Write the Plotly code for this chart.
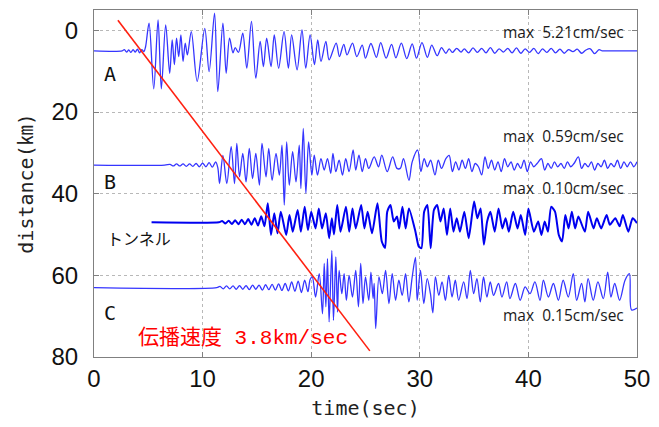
import plotly.graph_objects as go

# Station offsets on the distance axis (km) for each record
station_names = ["A", "B", "トンネル", "C"]
station_offsets = [5, 33, 47, 63]
max_labels = ["max\u00a0\u00a05.21cm/sec", "max\u00a0\u00a00.59cm/sec",
              "max\u00a0\u00a00.10cm/sec", "max\u00a0\u00a00.15cm/sec"]
max_label_y = [0.5, 25.8, 38.6, 69.6]

# Record A: time (s) and trace deflection (km on the distance axis, up = positive)
a_t = [0, 2.6, 2.8, 3.0, 3.2, 3.4, 3.6, 3.8, 4.0, 4.2, 4.4, 4.6, 4.75, 5.07, 5.5, 5.9,
       6.2, 6.6, 6.97, 7.2, 7.4, 7.6, 7.8, 8.0, 8.2, 8.4, 8.6, 8.96, 9.5, 10.2, 10.6,
       11.1, 11.4, 11.87, 12.17, 12.48, 12.8, 13.0, 13.3, 13.7, 14.07, 14.5, 14.9,
       15.3, 15.6, 15.9, 16.3, 16.6, 17.0, 17.5, 17.9, 18.2, 18.7, 19.15, 19.5, 19.9,
       20.3, 20.6, 20.9, 21.35, 21.65, 22.3, 22.6, 23.0, 23.3, 23.8, 24.2, 24.7, 25.0,
       25.5, 26.0, 26.4, 26.9, 27.4, 27.8, 28.3, 28.8, 29.3, 29.7, 30.2, 30.7, 31.1,
       31.6, 32.0, 32.4, 32.7, 33.0, 33.4, 33.8, 34.1, 34.5, 34.9, 35.3, 35.7, 36.1,
       36.5, 36.9, 37.3, 37.7, 38.1, 38.5, 38.9, 39.3, 39.7, 40.1, 40.5, 40.9, 41.3,
       41.7, 42.1, 42.5, 42.9, 43.3, 43.7, 44.1, 44.5, 44.9, 45.3, 45.7, 46.1, 46.5,
       46.8, 47.2, 50]
a_v = [0, 0, 0.3, -0.3, 0.2, -0.4, 0.3, -0.3, 0.4, -0.5, 0.3, -0.2, 1.0, 6.75, -9.3, 7.6,
       -9.3, 6.35, -5.5, 2.7, -3.4, 3.1, -1.4, 3.9, -2.6, 1.9, -1.0, 4.7, -7.5, 5.5, -5.1,
       9.2, -10.0, 6.75, -5.5, 3.1, -0.5, 0.8, -0.4, 4.3, -4.25, 7.2, -6.7,
       2.3, -3.85, 3.1, -3.85, 3.9, -4.25, 4.7, -4.25, 3.9, -4.65, 5.1, -4.25, 3.9,
       -3.4, 2.7, -2.6, 2.3, -2.2, 1.9, -1.4, 1.6, -1.0, 1.9, -1.4, 1.4, -1.8,
       1.8, -1.6, 2.0, -1.8, 1.6, -1.7, 1.9, -1.9, 1.7, -1.8, 2.0, -1.6, 1.4,
       -1.2, 0.8, -0.6, 0.5, -0.4, 0.6, -0.3, 0.5, -0.5, 0.7, -0.4, 0.6, -0.5,
       0.8, -0.6, 0.5, -0.3, 0.6, -0.5, 0.7, -0.6, 0.5, -0.4, 0.6, -0.7, 0.5,
       -0.4, 0.6, -0.5, 0.4, -0.6, 0.3, -0.2, 0.4, -0.6, 0.2, 0.5, -0.7, 0.3,
       0, 0, 0]

# Record B
b_t = [0, 6.5, 7.0, 7.3, 7.6, 7.9, 8.2, 8.5, 8.8, 9.1, 9.4, 9.7, 10.0, 10.3, 10.6, 10.9,
       11.2, 11.4, 11.56, 11.87, 12.23, 12.63, 12.94, 13.15, 13.4, 13.7, 14.0, 14.3,
       14.6, 14.9, 15.23, 15.47, 15.84, 16.09, 16.4, 16.76, 17.07, 17.31, 17.52, 17.74,
       17.98, 18.29, 18.6, 18.9, 19.05, 19.27, 19.51, 19.76, 20.06, 20.28, 20.58, 20.9,
       21.2, 21.5, 21.8, 22.0, 22.27, 22.57, 22.88, 23.18, 23.49, 23.86, 24.1, 24.4,
       24.7, 25.0, 25.3, 25.8, 26.2, 26.5, 27.0, 27.5, 27.9, 28.2, 28.5, 29.0, 29.3,
       29.8, 30.1, 30.4, 30.7, 31.0, 31.4, 31.7, 32.0, 32.4, 32.7, 33.0, 33.3, 33.6,
       33.9, 34.2, 34.5, 34.8, 35.1, 35.4, 35.7, 36.0, 36.3, 36.6, 36.9, 37.2, 37.5,
       37.8, 38.1, 38.4, 38.7, 39.0, 39.3, 39.6, 39.9, 40.2, 40.5, 40.8, 41.2, 41.5,
       41.8, 42.1, 42.4, 42.7, 43.0, 43.3, 43.6, 43.9, 44.2, 44.6, 44.9, 45.2, 45.5,
       45.8, 46.1, 46.4, 46.7, 47.0, 47.3, 47.6, 47.9, 48.2, 48.5, 48.8, 49.1, 49.4,
       49.7, 50.0]
b_v = [0, 0, 0.2, -0.2, 0.3, -0.2, 0.3, -0.3, 0.3, -0.3, 0.4, -0.4, 0.5, -0.4, 0.6, -0.5,
       0.8, -0.6, -4.5, 2.4, -4.5, 4.5, -4.5, 5.3, -2.85, 2.85, -4.1, 4.1,
       -3.3, 2.85, -4.9, 5.3, -2.85, 4.1, -3.7, 2.85, -2.45, 4.9, -9.8, 5.7,
       -4.9, 3.3, -4.1, 4.9, -5.7, 9.0, -6.9, 5.7, -2.45, 2.45, -2.45, 1.6,
       -1.2, 1.6, -2.0, 2.85, -1.6, 1.2, -2.45, 1.6, -1.6, 3.7, -1.2, 2.45,
       -1.6, 1.6, -0.8, 2.0, -0.4, 2.45, -1.6, 2.0, -0.8, -0.8, 1.6, -3.7, 0.8,
       3.7, -1.6, 1.6, -0.4, 1.2, -2.4, 1.2, -0.8, 1.6, 2.4, -1.6, 0.8, -1.2,
       1.2, -0.8, 1.6, -1.6, 0.4, -0.4, -2.4, 2.0, -0.8, 1.2, -1.2, 0.8, -1.6,
       1.6, -0.4, 0.8, -1.2, 0.4, -0.8, 1.2, -1.6, 0.8, -0.4, 0.4, 1.6, -1.2,
       0.4, -0.8, 0.8, -0.4, 0.4, -0.8, 0.8, -0.4, 0.4, 2.0, -0.8, 0.4, -0.4,
       0.8, -1.2, 0.4, -0.4, 1.2, -0.8, 0.4, -0.4, 1.2, -0.8, 0.8, -0.4, 0.8,
       -0.4, 0.8]

# Tunnel record
n_t = [5.3, 11.5, 11.8, 12.1, 12.4, 12.7, 13.0, 13.3, 13.6, 13.9, 14.2, 14.5, 14.8, 15.1,
       15.4, 15.7, 16.0, 16.3, 16.6, 16.9, 17.2, 17.7, 18.0, 18.3, 18.75, 19.05, 19.4,
       19.7, 20.0, 20.4, 20.7, 21.0, 21.35, 21.65, 21.9, 22.1, 22.4, 22.7, 23.2, 23.5,
       23.8, 24.1, 24.6, 24.9, 25.2, 25.6, 26.1, 26.5, 26.8, 27.0, 27.3, 27.6, 27.9,
       28.1, 28.4, 28.7, 29.0, 29.6, 29.9, 30.15, 30.4, 30.7, 31.0, 31.3, 31.6, 31.9,
       32.2, 32.5, 32.8, 33.1, 33.4, 33.7, 34.1, 34.5, 35.0, 35.3, 35.6, 35.9, 36.2,
       36.5, 36.9, 37.25, 37.6, 37.9, 38.2, 38.6, 39.0, 39.3, 39.7, 40.0, 40.5, 40.9,
       41.2, 41.5, 41.8, 42.1, 42.45, 42.8, 43.1, 43.4, 43.7, 44.0, 44.3, 44.6, 45.2,
       45.5, 46.0, 46.3, 46.7, 47.2, 47.5, 48.0, 48.4, 48.7, 49.2, 49.6, 50.0]
n_v = [0, 0, 0.3, -0.3, 0.4, -0.4, 0.5, -0.5, 0.6, -0.5, 0.8, -0.6, 1.0, -0.8,
       1.5, -1.0, 4.65, -3.1, 2.2, -2.7, 2.6, -3.1, 1.8, -2.3, 3.0, -2.3, 3.8,
       -1.9, 2.6, -1.5, 3.4, -1.5, 2.2, -3.9, 1.0, -3.0, 4.25, -2.3, 3.8, -2.3,
       3.4, -1.5, 4.25, -1.5, 2.6, -2.7, 4.65, -4.7, -6.3, 2.6, 4.25, 0.2, 1.4,
       -1.5, 3.8, -1.5, 3.4, -2.3, -5.9, -6.35, 2.6, 4.25, -6.35, 3.0, 4.25, 0.2,
       3.4, -3.1, 3.4, -2.3, 1.0, -2.3, 2.6, -3.9, 5.1, 1.0, 3.4, -5.5, 0.2,
       2.6, -2.3, 3.4, -1.5, 1.0, -2.3, 2.6, -1.5, 1.8, -3.1, 3.4, -2.3, 0.2,
       -3.1, 0.2, -2.3, 3.8, 2.6, -3.1, -4.7, 1.8, -1.5, 2.6, -1.5, 1.4, -2.3,
       2.6, -1.5, 1.0, -1.5, 1.8, -0.6, 1.0, -1.0, 1.8, -2.3, 1.0, -0.2]

# Record C
c_t = [0, 11.3, 11.6, 11.9, 12.2, 12.5, 12.8, 13.1, 13.4, 13.7, 14.0, 14.3, 14.6, 14.9,
       15.2, 15.5, 15.8, 16.1, 16.4, 16.7, 17.0, 17.3, 17.6, 17.9, 18.2, 18.5, 18.8,
       19.1, 19.4, 19.7, 19.9, 20.1, 20.4, 20.74, 21.04, 21.2, 21.35, 21.5, 21.65,
       21.9, 22.05, 22.27, 22.42, 22.57, 22.82, 23.03, 23.24, 23.49, 23.8, 24.1, 24.35,
       24.56, 24.77, 25.0, 25.3, 25.5, 25.7, 25.8, 25.94, 26.24, 26.55, 26.85, 27.16,
       27.46, 27.77, 28.07, 28.38, 28.69, 28.99, 29.3, 29.6, 29.76, 30.06, 30.37, 30.68,
       30.98, 31.2, 31.44, 31.75, 32.05, 32.36, 32.66, 32.97, 33.27, 33.58, 34.04, 34.35,
       34.65, 34.96, 35.26, 35.57, 35.87, 36.18, 36.49, 36.79, 37.25, 37.56, 38.0, 38.3,
       38.8, 39.24, 39.7, 40.15, 40.6, 41.07, 41.38, 41.84, 42.3, 42.76, 43.2, 43.67,
       44.13, 44.44, 44.9, 45.2, 45.5, 45.97, 46.4, 46.9, 47.3, 47.6, 47.95, 48.4,
       48.9, 49.3, 49.5, 50.0]
c_v = [0, 0, 0.3, -0.3, 0.4, -0.3, 0.4, -0.4, 0.5, -0.4, 0.5, -0.5, 0.6, -0.4,
       0.6, -0.6, 0.7, -0.5, 0.8, -0.6, 0.9, -0.7, 1.0, -0.8, 1.4, -0.9, 1.6,
       -1.2, 1.8, -1.0, 2.0, 2.6, -2.3, 3.4, -6.4, 5.9, -4.7, 7.1, -8.4,
       9.1, -8.0, 7.5, -6.0, 4.2, -1.5, 3.4, -3.1, 3.0, -2.3, 4.2, -4.7,
       5.9, -3.9, 2.6, -3.1, 3.8, -2.7, 1.0, -10.0, 2.6, -1.5, 4.2, -3.9,
       3.4, -3.1, 1.8, -1.9, 3.4, -3.5, 2.6, 7.4, -3.1, 4.2, -3.9, 2.2,
       -1.5, -6.2, 2.6, -1.9, 1.4, -3.1, 3.0, -2.3, 1.8, -3.1, 1.4, -2.7,
       4.2, -1.5, 2.2, -3.5, 2.6, -2.3, 1.4, -1.9, 1.0, -2.3, 1.4, -2.7,
       1.0, -3.1, 0.2, -1.5, 1.4, -3.1, 1.8, -2.3, 1.0, -3.1, 1.8, -2.3,
       3.4, -3.1, 1.0, -3.5, 2.2, -3.1, 1.4, -2.7, 3.8, -2.3, 1.0, -3.1,
       1.8, 3.4, -5.5, -5.0]

# Propagation line (3.8 km/s), end points in (s, km)
wave_t = [2.2, 25.4]
wave_d = [-2.5, 78.5]

x_ticks = [0, 10, 20, 30, 40, 50]
y_ticks = [0, 20, 40, 60, 80]

records = [(a_t, a_v), (b_t, b_v), (n_t, n_v), (c_t, c_v)]
line_styles = [dict(color="#3535ff", width=1.3, shape="spline", smoothing=0.9),
               dict(color="#3535ff", width=1.3, shape="spline", smoothing=0.9),
               dict(color="#0000f0", width=2.0, shape="spline", smoothing=0.6),
               dict(color="#3535ff", width=1.3, shape="spline", smoothing=0.9)]

fig = go.Figure()
for (tt, vv), base, style, name in zip(records, station_offsets, line_styles, station_names):
    fig.add_trace(go.Scatter(x=tt, y=[base - v for v in vv], mode="lines",
                             line=style, name=name, showlegend=False, hoverinfo="skip"))

fig.add_trace(go.Scatter(x=wave_t, y=wave_d, mode="lines",
                         line=dict(color="#ff2010", width=1.6), showlegend=False))

gothic = "DejaVu Sans Mono, Noto Sans CJK JP"
# Station labels
label_pos = [(0.75, 10.7), (0.75, 37.1), (1.0, 50.8), (0.75, 69.3)]
for name, (lx, ly) in zip(station_names, label_pos):
    fig.add_annotation(x=lx, y=ly, text=name, showarrow=False, xanchor="left",
                       font=dict(family=gothic if name != "トンネル" else "Noto Sans CJK JP",
                                 size=20 if name != "トンネル" else 16, color="#111"))

# Peak-amplitude labels
for txt, ly in zip(max_labels, max_label_y):
    fig.add_annotation(x=49.0, y=ly, text=txt, showarrow=False, xanchor="right",
                       font=dict(family="Open Sans, Noto Sans", size=15.5, color="#1a1a1a"))

fig.add_annotation(x=3.9, y=75.3, text="伝播速度 3.8km/sec", showarrow=False,
                   xanchor="left",
                   font=dict(family="Liberation Mono, Noto Sans CJK JP", size=21, color="#ff0000"))

axis_common = dict(showline=True, linecolor="#808080", linewidth=1, mirror="ticks",
                   ticks="inside", ticklen=5, tickcolor="#808080",
                   showgrid=True, gridcolor="#b8b8b8", griddash="dot", gridwidth=1,
                   zeroline=False,
                   tickfont=dict(family="Liberation Sans Narrow, Liberation Sans", size=24,
                                 color="#111"))

fig.update_xaxes(range=[0, 50], tickvals=x_ticks, **axis_common,
                 title=dict(text="time(sec)", standoff=10,
                            font=dict(family=gothic, size=20, color="#222")))
fig.update_yaxes(range=[80, -5], tickvals=y_ticks, ticklabelstandoff=10, **axis_common,
                 title=dict(text="distance(㎞)", standoff=12,
                            font=dict(family=gothic, size=20, color="#222")))

fig.update_layout(width=659, height=427, margin=dict(l=94, r=20, t=9, b=70),
                  plot_bgcolor="white", paper_bgcolor="white")

fig.write_html("out.html")
